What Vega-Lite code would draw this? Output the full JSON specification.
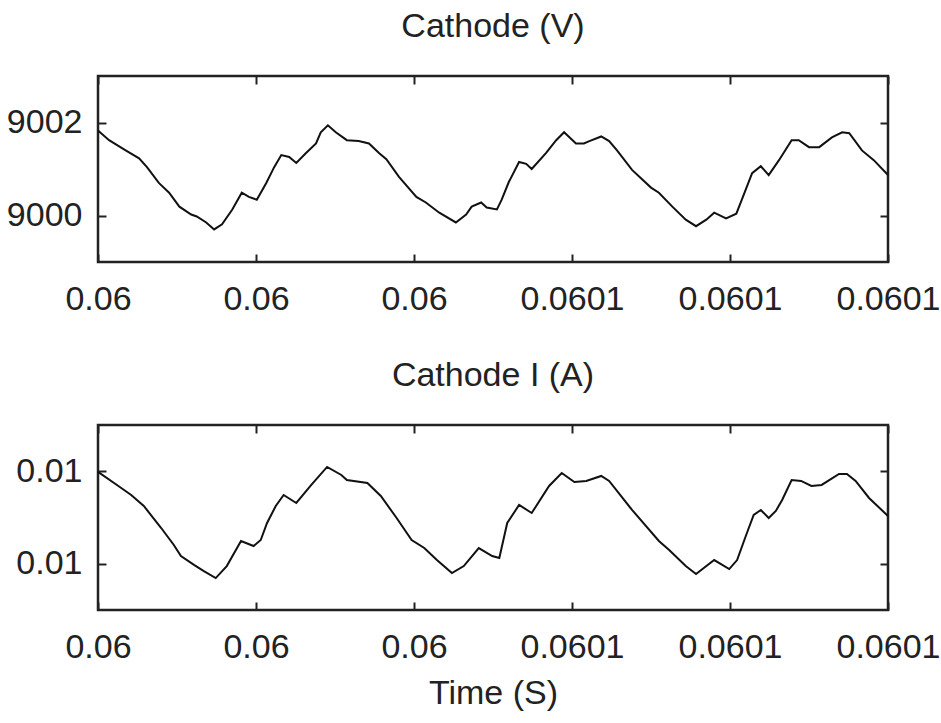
{
  "$schema": "https://vega.github.io/schema/vega-lite/v6.json",
  "background": "white",
  "padding": {"left": 5, "top": 8, "right": 5, "bottom": 5},
  "spacing": 39,
  "config": {
    "view": {"stroke": "#222", "strokeWidth": 2.5},
    "font": "Liberation Sans",
    "axis": {
      "labelFont": "Liberation Sans", "labelFontSize": 34, "labelColor": "#222",
      "titleFont": "Liberation Sans", "titleFontSize": 34, "titleFontWeight": "normal", "titleColor": "#222",
      "domain": false, "grid": false, "tickColor": "#222", "tickSize": -8, "tickWidth": 2, "labelPadding": 24,
      "labelFlush": false, "labelOverlap": false
    },
    "title": {"font": "Liberation Sans", "fontSize": 34, "fontWeight": "normal", "color": "#222", "offset": 31},
    "line": {"color": "#111", "strokeWidth": 2}
  },
  "datasets": {
    "v": [
      {"t": 0.06, "value": 9001.83}, {"t": 0.0600014, "value": 9001.62}, {"t": 0.0600035, "value": 9001.40},
      {"t": 0.0600052, "value": 9001.23}, {"t": 0.0600062, "value": 9001.04}, {"t": 0.0600077, "value": 9000.70},
      {"t": 0.0600090, "value": 9000.49}, {"t": 0.0600103, "value": 9000.19}, {"t": 0.0600118, "value": 9000.02},
      {"t": 0.0600125, "value": 8999.98}, {"t": 0.0600137, "value": 8999.85}, {"t": 0.0600147, "value": 8999.70},
      {"t": 0.0600157, "value": 8999.81}, {"t": 0.0600170, "value": 9000.13}, {"t": 0.0600182, "value": 9000.49},
      {"t": 0.0600191, "value": 9000.40}, {"t": 0.0600201, "value": 9000.34}, {"t": 0.0600213, "value": 9000.70},
      {"t": 0.0600223, "value": 9001.04}, {"t": 0.0600232, "value": 9001.30}, {"t": 0.0600242, "value": 9001.26},
      {"t": 0.0600251, "value": 9001.13}, {"t": 0.0600263, "value": 9001.34}, {"t": 0.0600276, "value": 9001.55},
      {"t": 0.0600282, "value": 9001.79}, {"t": 0.0600291, "value": 9001.94}, {"t": 0.0600301, "value": 9001.79},
      {"t": 0.0600315, "value": 9001.62}, {"t": 0.0600330, "value": 9001.60}, {"t": 0.0600343, "value": 9001.55},
      {"t": 0.0600356, "value": 9001.34}, {"t": 0.0600365, "value": 9001.21}, {"t": 0.0600381, "value": 9000.83},
      {"t": 0.0600403, "value": 9000.40}, {"t": 0.0600415, "value": 9000.28}, {"t": 0.0600432, "value": 9000.06},
      {"t": 0.0600453, "value": 8999.85}, {"t": 0.0600466, "value": 9000.02}, {"t": 0.0600473, "value": 9000.19},
      {"t": 0.0600485, "value": 9000.28}, {"t": 0.0600492, "value": 9000.17}, {"t": 0.0600505, "value": 9000.13},
      {"t": 0.0600511, "value": 9000.34}, {"t": 0.0600520, "value": 9000.72}, {"t": 0.0600533, "value": 9001.15},
      {"t": 0.0600542, "value": 9001.11}, {"t": 0.0600549, "value": 9001.00}, {"t": 0.0600567, "value": 9001.34},
      {"t": 0.0600580, "value": 9001.62}, {"t": 0.0600590, "value": 9001.79}, {"t": 0.0600605, "value": 9001.55},
      {"t": 0.0600615, "value": 9001.55}, {"t": 0.0600622, "value": 9001.60}, {"t": 0.0600637, "value": 9001.70},
      {"t": 0.0600647, "value": 9001.60}, {"t": 0.0600657, "value": 9001.40}, {"t": 0.0600676, "value": 9000.98},
      {"t": 0.0600700, "value": 9000.60}, {"t": 0.0600710, "value": 9000.49}, {"t": 0.0600727, "value": 9000.19},
      {"t": 0.0600744, "value": 8999.91}, {"t": 0.0600757, "value": 8999.77}, {"t": 0.0600770, "value": 8999.91},
      {"t": 0.0600780, "value": 9000.06}, {"t": 0.0600795, "value": 8999.94}, {"t": 0.0600808, "value": 9000.04},
      {"t": 0.0600815, "value": 9000.34}, {"t": 0.0600828, "value": 9000.91}, {"t": 0.0600839, "value": 9001.06},
      {"t": 0.0600849, "value": 9000.87}, {"t": 0.0600862, "value": 9001.19}, {"t": 0.0600878, "value": 9001.62},
      {"t": 0.0600887, "value": 9001.62}, {"t": 0.0600900, "value": 9001.47}, {"t": 0.0600913, "value": 9001.47},
      {"t": 0.0600929, "value": 9001.68}, {"t": 0.0600942, "value": 9001.79}, {"t": 0.0600951, "value": 9001.77},
      {"t": 0.0600967, "value": 9001.40}, {"t": 0.0600982, "value": 9001.19}, {"t": 0.0601, "value": 9000.87}
    ],
    "i": [
      {"t": 0.06, "value": 0.010197}, {"t": 0.0600024, "value": 0.0101407}, {"t": 0.0600042, "value": 0.0100974},
      {"t": 0.0600058, "value": 0.0100498}, {"t": 0.0600080, "value": 0.0099545}, {"t": 0.0600096, "value": 0.0098810},
      {"t": 0.0600105, "value": 0.0098333}, {"t": 0.0600122, "value": 0.0097944}, {"t": 0.0600134, "value": 0.0097684},
      {"t": 0.0600149, "value": 0.0097381}, {"t": 0.0600163, "value": 0.0097900}, {"t": 0.0600181, "value": 0.0098983},
      {"t": 0.0600197, "value": 0.0098766}, {"t": 0.0600206, "value": 0.0099026}, {"t": 0.0600214, "value": 0.0099762},
      {"t": 0.0600225, "value": 0.0100498}, {"t": 0.0600235, "value": 0.0100974}, {"t": 0.0600251, "value": 0.0100628},
      {"t": 0.0600270, "value": 0.0101407}, {"t": 0.0600290, "value": 0.0102186}, {"t": 0.0600308, "value": 0.0101840},
      {"t": 0.0600315, "value": 0.0101623}, {"t": 0.0600341, "value": 0.0101494}, {"t": 0.0600358, "value": 0.0100931},
      {"t": 0.0600378, "value": 0.0099978}, {"t": 0.0600397, "value": 0.0099026}, {"t": 0.0600413, "value": 0.0098680},
      {"t": 0.0600429, "value": 0.0098160}, {"t": 0.0600448, "value": 0.0097597}, {"t": 0.0600463, "value": 0.0097900},
      {"t": 0.0600482, "value": 0.0098680}, {"t": 0.0600499, "value": 0.0098333}, {"t": 0.0600508, "value": 0.0098247},
      {"t": 0.0600518, "value": 0.0099762}, {"t": 0.0600533, "value": 0.0100541}, {"t": 0.0600549, "value": 0.0100195},
      {"t": 0.0600571, "value": 0.0101364}, {"t": 0.0600587, "value": 0.0101926}, {"t": 0.0600603, "value": 0.0101537},
      {"t": 0.0600618, "value": 0.0101580}, {"t": 0.0600637, "value": 0.0101797}, {"t": 0.0600647, "value": 0.0101580},
      {"t": 0.0600676, "value": 0.0100325}, {"t": 0.0600710, "value": 0.0098983}, {"t": 0.0600723, "value": 0.0098593},
      {"t": 0.0600744, "value": 0.0097900}, {"t": 0.0600757, "value": 0.0097554}, {"t": 0.0600780, "value": 0.0098160},
      {"t": 0.0600799, "value": 0.0097771}, {"t": 0.0600809, "value": 0.0098160}, {"t": 0.0600820, "value": 0.0099199},
      {"t": 0.0600830, "value": 0.0100108}, {"t": 0.0600839, "value": 0.0100325}, {"t": 0.0600849, "value": 0.0099978},
      {"t": 0.0600858, "value": 0.0100281}, {"t": 0.0600866, "value": 0.0100758}, {"t": 0.0600878, "value": 0.0101623},
      {"t": 0.0600890, "value": 0.0101580}, {"t": 0.0600903, "value": 0.0101364}, {"t": 0.0600916, "value": 0.0101407},
      {"t": 0.0600938, "value": 0.0101883}, {"t": 0.0600948, "value": 0.0101883}, {"t": 0.0600959, "value": 0.0101580},
      {"t": 0.0600976, "value": 0.0100844}, {"t": 0.0601, "value": 0.0100065}
    ]
  },
  "vconcat": [
    {
      "title": "Cathode (V)",
      "width": 790, "height": 186,
      "data": {"name": "v"},
      "layer": [
        {
          "mark": {"type": "line"},
          "encoding": {
            "x": {"field": "t", "type": "quantitative", "scale": {"domain": [0.06, 0.0601], "nice": false, "zero": false},
                  "axis": {"values": [0.06, 0.06002, 0.06004, 0.06006, 0.06008, 0.0601], "format": ".3~r", "title": null, "labelPadding": 28}},
            "y": {"field": "value", "type": "quantitative", "scale": {"domain": [8999, 9003], "nice": false, "zero": false},
                  "axis": {"values": [9000, 9002], "format": "d", "title": null}}
          }
        },
        {
          "mark": {"type": "line", "opacity": 0},
          "encoding": {
            "x": {"field": "t", "type": "quantitative", "scale": {"domain": [0.06, 0.0601], "nice": false, "zero": false},
                  "axis": {"orient": "top", "values": [0.06, 0.06002, 0.06004, 0.06006, 0.06008, 0.0601], "labels": false, "title": null}},
            "y": {"field": "value", "type": "quantitative", "scale": {"domain": [8999, 9003], "nice": false, "zero": false},
                  "axis": {"orient": "right", "values": [9000, 9002], "labels": false, "title": null}}
          }
        }
      ],
      "resolve": {"axis": {"x": "independent", "y": "independent"}}
    },
    {
      "title": "Cathode I (A)",
      "width": 790, "height": 185,
      "data": {"name": "i"},
      "layer": [
        {
          "mark": {"type": "line"},
          "encoding": {
            "x": {"field": "t", "type": "quantitative", "scale": {"domain": [0.06, 0.0601], "nice": false, "zero": false},
                  "axis": {"values": [0.06, 0.06002, 0.06004, 0.06006, 0.06008, 0.0601], "format": ".3~r", "title": "Time (S)", "titlePadding": 12, "labelPadding": 28}},
            "y": {"field": "value", "type": "quantitative", "scale": {"domain": [0.0096, 0.0104], "nice": false, "zero": false},
                  "axis": {"values": [0.0098, 0.0102], "format": ".2f", "title": null}}
          }
        },
        {
          "mark": {"type": "line", "opacity": 0},
          "encoding": {
            "x": {"field": "t", "type": "quantitative", "scale": {"domain": [0.06, 0.0601], "nice": false, "zero": false},
                  "axis": {"orient": "top", "values": [0.06, 0.06002, 0.06004, 0.06006, 0.06008, 0.0601], "labels": false, "title": null}},
            "y": {"field": "value", "type": "quantitative", "scale": {"domain": [0.0096, 0.0104], "nice": false, "zero": false},
                  "axis": {"orient": "right", "values": [0.0098, 0.0102], "labels": false, "title": null}}
          }
        }
      ],
      "resolve": {"axis": {"x": "independent", "y": "independent"}}
    }
  ]
}
